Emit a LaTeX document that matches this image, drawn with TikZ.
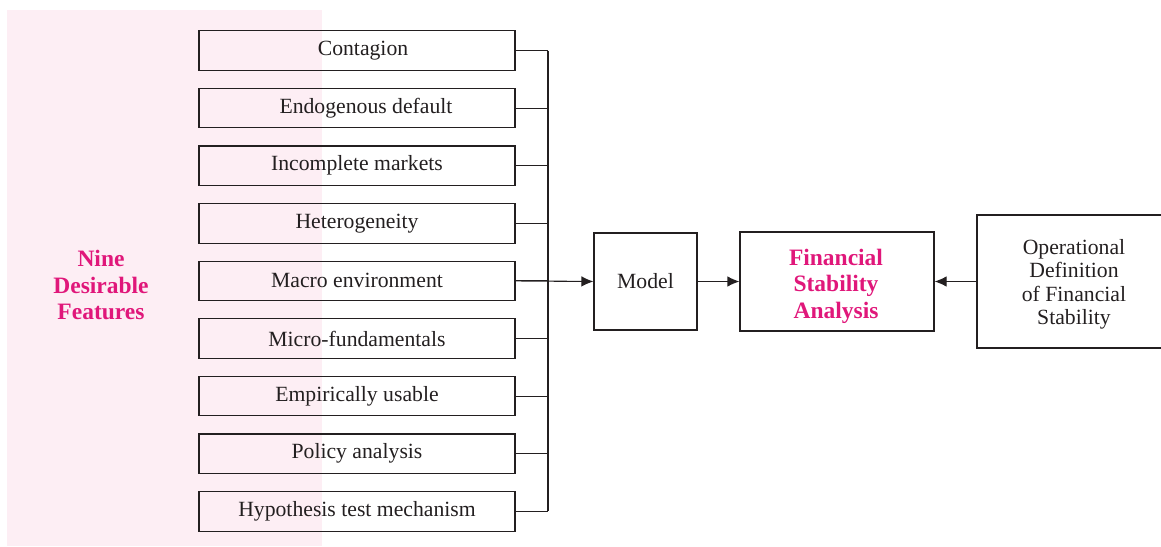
\documentclass[tikz,border=0pt]{standalone}
\usepackage{fontspec}
\setmainfont{Liberation Serif}
\usetikzlibrary{arrows.meta}
\definecolor{ink}{HTML}{231F20}
\definecolor{pinkbg}{HTML}{FDEEF4}
\definecolor{mag}{HTML}{E0177A}
\tikzset{
  feat/.style={draw=ink, line width=1.1pt, minimum width=316pt, minimum height=39.5pt, inner sep=0pt, font=\fontsize{21.7}{24}\selectfont, text=ink, anchor=center},
  bigbox/.style={draw=ink, line width=1.1pt, inner sep=0pt, align=center, text=ink},
  conn/.style={draw=ink, line width=1.1pt},
  arr/.style={conn, -{Latex[length=12pt,width=10.5pt]}},
  hl/.style={text=mag, align=center, font=\fontsize{23.5}{26.5}\selectfont\bfseries},
}
\begin{document}
\begin{tikzpicture}[x=1pt,y=-1pt]
\useasboundingbox (0,0) rectangle (1161,546);
\fill[pinkbg] (7,10) rectangle (322,546);
\node[hl] (nine) at (101,285) {Nine\\Desirable\\Features};
\foreach \i/\t in {1/\hspace*{12pt}Contagion,2/\hspace*{18pt}Endogenous default,3/Incomplete markets,4/Heterogeneity,5/Macro environment,6/Micro-fundamentals,7/Empirically usable,8/Policy analysis,9/Hypothesis test mechanism}{
  \node[feat] (f\i) at (357,{50.5+57.6*(\i-1)}) {\t};
}
\coordinate (bt) at (548,50.5);
\coordinate (bb) at (548,511.3);
\draw[conn] (bt) -- (bb);
\foreach \i in {1,...,9}{
  \draw[conn] (f\i.east) -- (f\i.east -| bt);
}
\node[bigbox, minimum width=103pt, minimum height=97pt, font=\fontsize{21.7}{24}\selectfont] (model) at (645.5,281.5) {Model};
\node[bigbox, minimum width=194pt, minimum height=99pt] (fsa) at (837,281.5) {};
\node[hl] (fsat) at (836,286) {Financial\\Stability\\Analysis};
\node[bigbox, minimum width=192pt, minimum height=133pt] (odf) at (1073,281.5) {};
\node[text=ink, align=center, font=\fontsize{21.7}{23.5}\selectfont] (odft) at (1074,284.5) {Operational\\Definition\\of Financial\\Stability};
\draw[arr] (f5.east) -- (model.west);
\draw[arr] (model.east) -- (fsa.west);
\draw[arr] (odf.west) -- (fsa.east);
\end{tikzpicture}
\end{document}
